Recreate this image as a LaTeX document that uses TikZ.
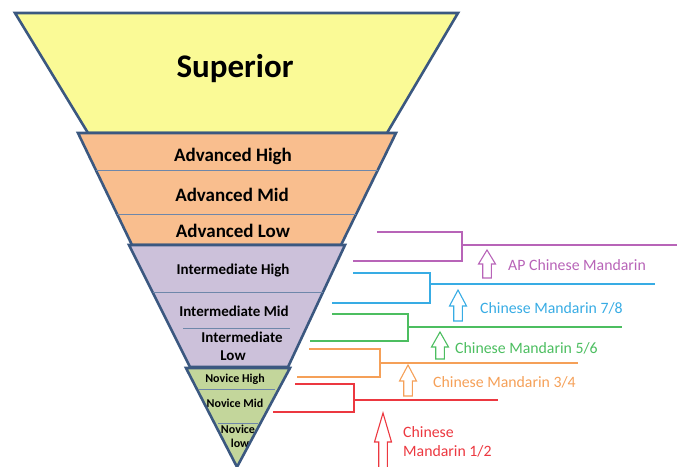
\documentclass[tikz,border=0pt]{standalone}
\usepackage{fontspec}
\setmainfont{Carlito}
\definecolor{bord}{RGB}{59,88,128}
\definecolor{sepline}{RGB}{110,135,170}
\definecolor{cSup}{RGB}{250,250,150}
\definecolor{cAdv}{RGB}{249,190,142}
\definecolor{cInt}{RGB}{204,193,218}
\definecolor{cNov}{RGB}{195,214,155}
\definecolor{cAP}{RGB}{184,100,184}
\definecolor{cBlue}{RGB}{56,172,228}
\definecolor{cGreen}{RGB}{76,190,96}
\definecolor{cOrange}{RGB}{245,160,88}
\definecolor{cRed}{RGB}{236,56,64}
\tikzset{
  tier/.style={draw=bord, line width=2.6pt, line join=miter},
  sep/.style={draw=sepline, line width=0.9pt},
  lvl/.style={font=\bfseries\fontsize{#1}{#1}\selectfont, text=black, inner sep=0pt, align=center},
  brk/.style={line width=1.1pt},
  lab/.style={font=\fontsize{15.8}{18}\selectfont, inner sep=0pt, anchor=west, align=left},
}
\newcommand{\hollowup}[5]{% colour, cx, tip, base, bottom
  \draw[#1, line width=1.1pt, line join=miter]
    (#2,#3) -- (#2+8.5,#4) -- (#2+4.3,#4) -- (#2+4.3,#5) -- (#2-4.3,#5)
    -- (#2-4.3,#4) -- (#2-8.5,#4) -- cycle;}
\begin{document}
\begin{tikzpicture}[x=1pt,y=-1pt]
\useasboundingbox (0,0) rectangle (677,466);
% tiers
\filldraw[tier, fill=cSup] (15,13) -- (458,13) -- (387,133) -- (88,133) -- cycle;
\filldraw[tier, fill=cAdv] (78,133) -- (396,133) -- (341,245) -- (132,245) -- cycle;
\draw[sep] (96,170) -- (378,170);
\draw[sep] (117,214) -- (356,214);
\filldraw[tier, fill=cInt] (129,245) -- (345,245) -- (288,367) -- (190,367) -- cycle;
\draw[sep] (153,292) -- (323,292);
\draw[sep] (183,328) -- (290,328);
\fill[cNov] (186,368) -- (290,368) -- (237,467) -- cycle;
\draw[sep] (199,389) -- (275,389);
\draw[sep, line width=0.6pt] (218,423) -- (258,423);
% labels
\node[lvl=33] (sup) at (235,69) {Superior};
\node[lvl=19] (ah) at (233,156) {Advanced High};
\node[lvl=19] (am) at (232,195) {Advanced Mid};
\node[lvl=19] (al) at (233,231) {Advanced Low};
\node[lvl=15] (ih) at (233,271) {Intermediate High};
\node[lvl=15] (im) at (234,311) {Intermediate Mid};
\node[lvl=15] (il1) at (242,337) {Intermediate};
\node[lvl=15] (il2) at (233,356) {Low};
\node[lvl=12] (nh) at (235,379) {Novice High};
\node[lvl=12] (nm) at (235,403) {Novice Mid};
\node[lvl=12] (nl1) at (238,429) {Novice};
\node[lvl=12] (nl2) at (240,443) {low};
\draw[tier] (186,368) -- (290,368) -- (237,467) -- cycle;
% brackets
\draw[brk, cAP] (377,232) -- (462,232) -- (462,261) -- (353,261);
\draw[brk, cAP] (462,245) -- (677,245);
\draw[brk, cBlue] (353,273) -- (430,273) -- (430,303) -- (332,303);
\draw[brk, cBlue] (430,284) -- (655,284);
\draw[brk, cGreen] (332,314) -- (408,314) -- (408,341) -- (310,341);
\draw[brk, cGreen] (408,327) -- (622,327);
\draw[brk, cOrange] (309,349) -- (380,349) -- (380,377) -- (297,377);
\draw[brk, cOrange] (380,363) -- (578,363);
\draw[brk, cRed] (295,384) -- (354,384) -- (354,412) -- (273,412);
\draw[brk, cRed] (354,400) -- (498,400);
% arrows
\hollowup{cAP}{487}{250}{264}{278}
\hollowup{cBlue}{458}{290}{306}{321}
\hollowup{cGreen}{440}{332}{347}{359}
\hollowup{cOrange}{408}{365}{381}{396}
\hollowup{cRed}{383}{413}{442}{470}
% right labels
\node[lab, text=cAP] (ap) at (508,265) {AP Chinese Mandarin};
\node[lab, text=cBlue] (c78) at (480,308) {Chinese Mandarin 7/8};
\node[lab, text=cGreen] (c56) at (455,348) {Chinese Mandarin 5/6};
\node[lab, text=cOrange] (c34) at (433,382) {Chinese Mandarin 3/4};
\node[lab, text=cRed] (c12a) at (403,432) {Chinese};
\node[lab, text=cRed] (c12b) at (403,451) {Mandarin 1/2};
\end{tikzpicture}
\end{document}
